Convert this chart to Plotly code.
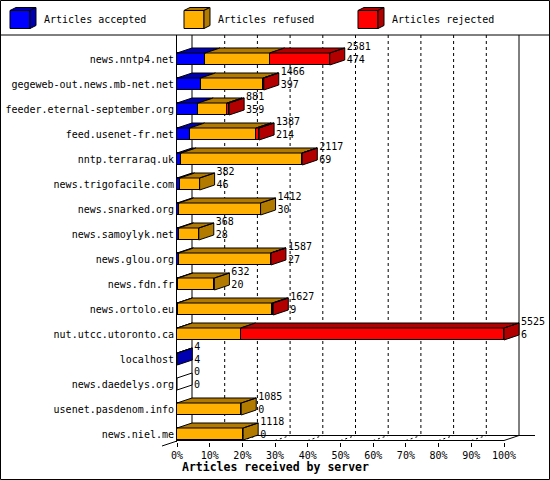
import plotly.graph_objects as go

servers = [
    "news.nntp4.net", "gegeweb-out.news.mb-net.net", "feeder.eternal-september.org",
    "feed.usenet-fr.net", "nntp.terraraq.uk", "news.trigofacile.com", "news.snarked.org",
    "news.samoylyk.net", "news.glou.org", "news.fdn.fr", "news.ortolo.eu",
    "nut.utcc.utoronto.ca", "localhost", "news.daedelys.org", "usenet.pasdenom.info",
    "news.niel.me",
]
accepted = [474, 397, 359, 214, 69, 46, 30, 28, 27, 20, 9, 6, 4, 0, 0, 0]
refused = [1091, 1057, 486, 1121, 2042, 336, 1382, 340, 1555, 612, 1603, 1069, 0, 0, 1085, 1118]
rejected = [1016, 12, 36, 52, 6, 0, 0, 0, 5, 0, 15, 4450, 0, 0, 0, 0]

series_names = ["Articles accepted", "Articles refused", "Articles rejected"]
front_colors = ["#0000FF", "#FFB000", "#FF0000"]
shade_colors = ["#0000B2", "#B27B00", "#B20000"]
pct_ticks = list(range(0, 101, 10))

FONT = "DejaVu Sans Mono"

# pixel geometry of the 3d frame
W, H = 550, 480
ML, MT, MB = 177, 35, 38
PW, PH = W - ML, H - MT - MB
PX_PCT = 3.27          # pixels per percent
ROW = 25.0             # pixels per server row
FIRST_ROW = 59.0       # pixel y of the first row centre
DX = 15 / PX_PCT       # depth offset (x, in percent)
DY = 5 / ROW           # depth offset (y, in rows)
HALF = 6 / ROW         # half bar height


def px_x(px):
    return (px - ML) / PW


def px_y(py):
    return (H - MB - py) / PH


totals = [a + b + c for a, b, c in zip(accepted, refused, rejected)]
top_total = max(totals)
rows = list(range(len(servers)))

y_top = (MT - FIRST_ROW) / ROW
y_front = (440.5 - FIRST_ROW) / ROW
y_back = y_front - DY
x_wall = 100 + DX

shapes = []


def data_line(x0, y0, x1, y1, dash="solid"):
    shapes.append(dict(type="line", xref="x", yref="y", layer="below",
                       x0=x0, y0=y0, x1=x1, y1=y1,
                       line=dict(color="black", width=1, dash=dash)))


# back wall grid (dashed) and floor marks, behind the bars
for p in pct_ticks[1:-1]:
    data_line(p + DX, y_top, p + DX, y_back, dash="3px,3px")
    data_line(p, y_front, p + DX, y_back, dash="2px,3px")

# walls and floor edges
data_line(DX, y_top, DX, y_back)
data_line(x_wall, y_top, x_wall, y_back)
data_line(0, y_front, 100, y_front)
data_line(100, y_front, x_wall, y_back)
data_line(DX, y_back, x_wall + 16 / PX_PCT, y_back)

fig = go.Figure()

# front faces of the stacked bars
series = [accepted, refused, rejected]
for k, vals in enumerate(series):
    pct = [v / top_total * 100 for v in vals]
    fig.add_trace(go.Bar(
        y=rows, x=pct, orientation="h", width=2 * HALF,
        marker=dict(color=front_colors[k], line=dict(color="black", width=1)),
        name=series_names[k], showlegend=False, hoverinfo="skip",
    ))

# top and side faces
for k in range(3):
    tx, ty = [], []
    for i in rows:
        start = sum(series[j][i] for j in range(k)) / top_total * 100
        end = start + series[k][i] / top_total * 100
        t = i - HALF
        if series[k][i] > 0:
            tx += [start, end, end + DX, start + DX, start, None]
            ty += [t, t, t - DY, t - DY, t, None]
            if all(series[j][i] == 0 for j in range(k + 1, 3)):
                b = i + HALF
                tx += [end, end, end + DX, end + DX, end, None]
                ty += [t, b, b - DY, t - DY, t, None]
    fig.add_trace(go.Scatter(x=tx, y=ty, mode="lines", fill="toself",
                             fillcolor=shade_colors[k],
                             line=dict(color="black", width=1),
                             hoverinfo="skip", showlegend=False))

# empty bars: bare side outline
ex, ey = [], []
for i in rows:
    if totals[i] == 0:
        t, b = i - HALF, i + HALF
        ex += [0, 0, DX, DX, 0, None]
        ey += [t, b, b - DY, t - DY, t, None]
fig.add_trace(go.Scatter(x=ex, y=ey, mode="lines", fill="toself", fillcolor="white",
                         line=dict(color="black", width=1),
                         hoverinfo="skip", showlegend=False))

# value labels: total offered / accepted
fig.add_trace(go.Scatter(
    x=[t / top_total * 100 + DX + 0.6 for t in totals],
    y=[i - 0.19 for i in rows],
    text=[f"{t}<br>{a}" for t, a in zip(totals, accepted)],
    mode="text", textposition="middle right",
    textfont=dict(family=FONT, size=10, color="black"),
    cliponaxis=False, hoverinfo="skip", showlegend=False))

shapes += [
    dict(type="rect", xref="paper", yref="paper",
         x0=px_x(0.5), x1=px_x(549.5), y0=px_y(479.5), y1=px_y(0.5),
         line=dict(color="black", width=1)),
    dict(type="line", xref="paper", yref="paper",
         x0=px_x(0), x1=px_x(550), y0=px_y(35), y1=px_y(35),
         line=dict(color="black", width=1)),
    dict(type="line", xref="paper", yref="paper",
         x0=px_x(162), x1=px_x(177), y0=px_y(446), y1=px_y(441),
         line=dict(color="black", width=1)),
]

# legend cubes
annotations = []
legend_left = [10, 184, 358]
legend_text = [42, 216, 390]
for k in range(3):
    x0, x1 = legend_left[k], legend_left[k] + 20
    y0, y1 = 10.5, 28.5
    pts = {
        "front": [(x0, y0), (x1, y0), (x1, y1), (x0, y1)],
        "top": [(x0, y0), (x0 + 6, y0 - 3), (x1 + 6, y0 - 3), (x1, y0)],
        "side": [(x1, y0), (x1 + 6, y0 - 3), (x1 + 6, y1 - 3), (x1, y1)],
    }
    for face, poly in pts.items():
        path = "M " + " L ".join(f"{px_x(a):.5f},{px_y(b):.5f}" for a, b in poly) + " Z"
        shapes.append(dict(type="path", xref="paper", yref="paper", path=path,
                           fillcolor=front_colors[k] if face == "front" else shade_colors[k],
                           line=dict(color="black", width=1)))
    annotations.append(dict(xref="paper", yref="paper", x=px_x(legend_text[k]), y=px_y(20),
                            xanchor="left", yanchor="middle", showarrow=False,
                            text=series_names[k],
                            font=dict(family=FONT, size=10, color="black")))

annotations.append(dict(xref="paper", yref="paper", x=px_x(180), y=px_y(467),
                        xanchor="left", yanchor="middle", showarrow=False,
                        text="<b>Articles received by server</b>",
                        font=dict(family=FONT, size=11.5, color="black")))

fig.update_layout(
    width=W, height=H,
    margin=dict(l=ML, r=0, t=MT, b=MB, pad=0),
    paper_bgcolor="white", plot_bgcolor="white",
    barmode="stack", bargap=0,
    showlegend=False,
    shapes=shapes, annotations=annotations,
    xaxis=dict(range=[0, PW / PX_PCT], tickvals=pct_ticks,
               ticktext=[f"{p}%" for p in pct_ticks],
               ticks="outside", ticklen=4, tickcolor="black",
               showgrid=False, zeroline=False, showline=False,
               tickfont=dict(family=FONT, size=10, color="black")),
    yaxis=dict(range=[(H - MB - FIRST_ROW) / ROW, y_top],
               tickvals=rows, ticktext=servers, ticks="",
               showgrid=False, zeroline=False, showline=True,
               linecolor="black", linewidth=1,
               tickfont=dict(family=FONT, size=10, color="black")),
)

# the page body has a default 8px margin; drop it so the figure fills the window
fig.write_html("out.html", config={"displayModeBar": False},
               post_script="document.body.style.margin = '0';")
